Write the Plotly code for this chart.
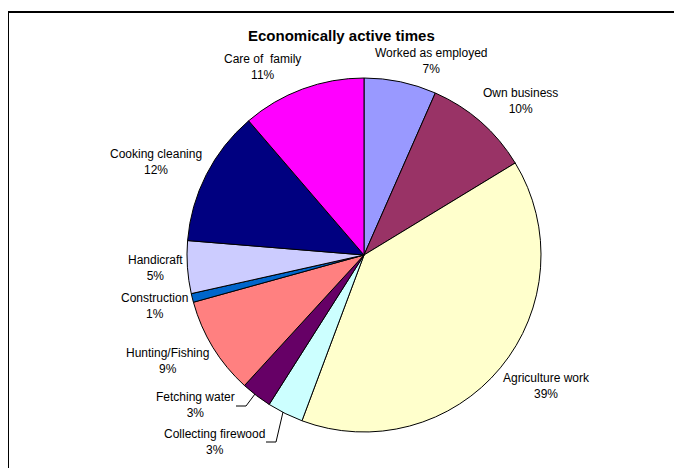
import plotly.graph_objects as go

W, H = 682, 468
OFF = 8  # default page body margin offset

categories = ["Worked as employed", "Own business", "Agriculture work", "Collecting firewood",
              "Fetching water", "Hunting/Fishing", "Construction", "Handicraft",
              "Cooking cleaning", "Care of  family"]
values = [6.6, 9.7, 39.4, 3.3, 2.8, 8.9, 0.8, 4.8, 12.4, 11.3]
colors = ["#9999FF", "#993366", "#FFFFCC", "#CCFFFF", "#660066",
          "#FF8080", "#0066CC", "#CCCCFF", "#000080", "#FF00FF"]

# label centre positions in page pixels (layout only)
label_pos = [(431, 61), (520, 101), (546, 386), (214, 442), (196, 405),
             (167, 361), (154, 306), (155, 268), (156, 162), (262, 67)]

cx, cy, r = 364 - OFF, 255 - OFF, 177


def X(px):
    return (px - OFF) / W


def Y(py):
    return 1 - (py - OFF) / H


fig = go.Figure(go.Pie(
    labels=categories, values=values, sort=False, direction="clockwise", rotation=0,
    marker=dict(colors=colors, line=dict(color="black", width=1)),
    textinfo="none", hoverinfo="label+percent", showlegend=False,
    domain=dict(x=[(cx - r) / W, (cx + r) / W], y=[(H - cy - r) / H, (H - cy + r) / H]),
))

total = sum(values)
font = dict(family="Liberation Sans, Arial, sans-serif", size=12, color="black")
annotations = []
for cat, v, (px, py) in zip(categories, values, label_pos):
    annotations.append(dict(
        x=X(px), y=Y(py), xref="paper", yref="paper",
        text=f"{cat}<br>{round(v / total * 100)}%", showarrow=False,
        font=font, align="center", xanchor="center", yanchor="middle"))

annotations.append(dict(
    x=X(341), y=Y(35), xref="paper", yref="paper",
    text="<b>Economically active times</b>", showarrow=False,
    font=dict(family="Liberation Sans, Arial, sans-serif", size=15, color="black"),
    xanchor="center", yanchor="middle"))


def P(x, y):
    return f"{X(x)},{Y(y)}"


shapes = [
    dict(type="path", xref="paper", yref="paper",
         path=f"M {P(8, H + 20)} L {P(8, 12)} L {P(W + 20, 12)}",
         line=dict(color="black", width=2)),
    # leader lines
    dict(type="path", xref="paper", yref="paper",
         path=f"M {P(266, 442)} L {P(276, 442)} L {P(283, 412)}",
         line=dict(color="black", width=1)),
    dict(type="path", xref="paper", yref="paper",
         path=f"M {P(236, 406)} L {P(246, 406)} L {P(255, 394)}",
         line=dict(color="black", width=1)),
]

fig.update_layout(
    width=W, height=H, margin=dict(l=0, r=0, t=0, b=0),
    paper_bgcolor="white", plot_bgcolor="white",
    annotations=annotations, shapes=shapes,
)

fig.write_html("out.html")
